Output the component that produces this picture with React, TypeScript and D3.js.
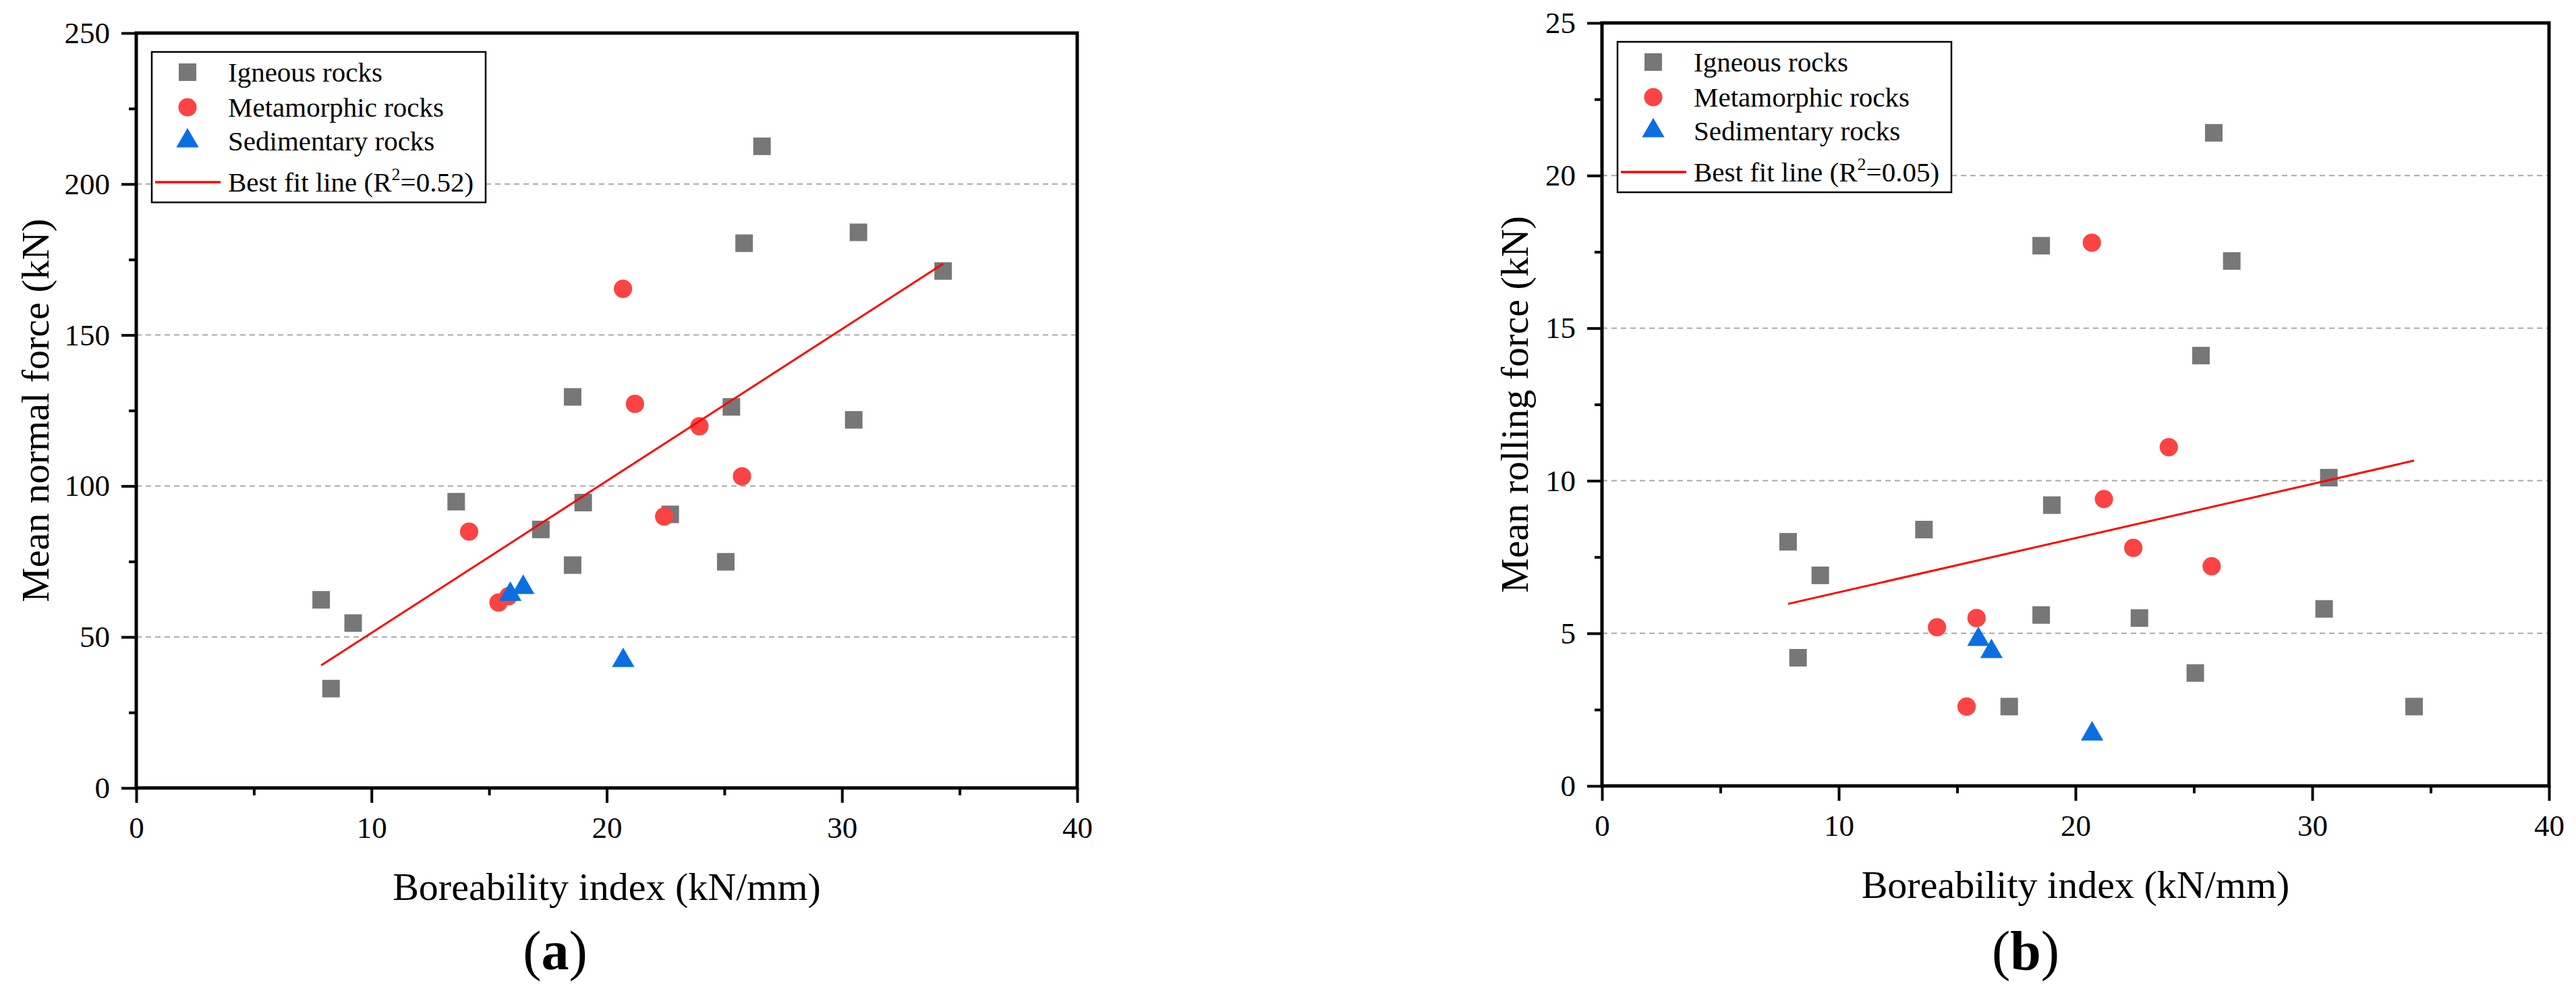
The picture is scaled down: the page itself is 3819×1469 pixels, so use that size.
import { useEffect, useRef } from 'react';
import * as d3 from 'd3';

// boreability index (kN/mm) per rock group
const boreIgneous = [7.86, 8.28, 9.22, 13.6, 17.2, 18.55, 18.55, 19.0, 22.7, 25.06, 25.3, 25.84, 26.6, 30.5, 30.7, 34.3];
const boreMetamorphic = [14.15, 15.4, 15.82, 20.69, 21.2, 22.44, 23.94, 25.75];
const boreSedimentary = [15.9, 16.45, 20.7];

// mean normal force (kN)
const normalIgneous = [62.3, 32.9, 54.6, 94.8, 85.6, 129.5, 73.8, 94.5, 90.6, 74.9, 126.2, 180.4, 212.5, 121.9, 184.0, 171.2];
const normalMetamorphic = [84.9, 61.4, 63.5, 165.3, 127.2, 89.9, 119.8, 103.2];
const normalSedimentary = [64.1, 66.4, 42.2];

// mean rolling force (kN)
const rollingIgneous = [8.0, 4.2, 6.9, 8.4, 2.6, 17.7, 5.6, 9.2, 5.5, 3.7, 14.1, 21.4, 17.2, 5.8, 10.1, 2.6];
const rollingMetamorphic = [5.2, 2.6, 5.5, 17.8, 9.4, 7.8, 11.1, 7.2];
const rollingSedimentary = [4.8, 4.4, 1.7];

// best fit lines: [slope, intercept]
const fitNormal = [5.03, 1.06];
const fitRolling = [0.1775, 4.57];
const r2Labels = ['0.52', '0.05'];

const xTicks = [0, 10, 20, 30, 40];
const xMinor = [5, 15, 25, 35];
const normalTicks = [0, 50, 100, 150, 200, 250];
const normalMinor = [25, 75, 125, 175, 225];
const rollingTicks = [0, 5, 10, 15, 20, 25];
const rollingMinor = [2.5, 7.5, 12.5, 17.5, 22.5];

const groupLabels = ['Igneous rocks', 'Metamorphic rocks', 'Sedimentary rocks'];
const groupColors = ['#777777', '#fb4343', '#0b6fe2'];
const groupShapes = [d3.symbolSquare, d3.symbolCircle, d3.symbolTriangle];
const groupSizes = [676, 580, 480];

const FONT = '"Liberation Serif", "Times New Roman", Times, serif';
const W = 3819;
const H = 1469;

const drawPanel = (svg, opt) => {
  const x = d3.scaleLinear([0, 40], [opt.left, opt.right]);
  const y = d3.scaleLinear([0, opt.yMax], [opt.bottom, opt.top]);
  const g = svg.append('g').attr('font-family', FONT);

  // dashed grid
  g.append('g')
    .selectAll('line')
    .data(opt.yTicks.filter((v) => v > 0 && v < opt.yMax))
    .join('line')
    .attr('x1', x(0))
    .attr('x2', x(40))
    .attr('y1', (d) => y(d))
    .attr('y2', (d) => y(d))
    .attr('stroke', '#a8a8a8')
    .attr('stroke-width', 2)
    .attr('stroke-dasharray', '8,6');

  const styleAxis = (a) => {
    a.attr('font-family', FONT).attr('font-size', 45);
    a.select('.domain').remove();
    a.selectAll('.tick line').attr('stroke', '#000').attr('stroke-width', 4);
    a.selectAll('.tick text').attr('font-size', 45).attr('font-family', FONT).attr('fill', '#000');
  };

  // x axis
  g.append('g')
    .attr('transform', `translate(0,${y(0)})`)
    .call(d3.axisBottom(x).tickValues(xTicks).tickSize(22).tickPadding(20).tickSizeOuter(0))
    .call(styleAxis);
  g.append('g')
    .attr('transform', `translate(0,${y(0)})`)
    .call(d3.axisBottom(x).tickValues(xMinor).tickSize(11).tickFormat(() => '').tickSizeOuter(0))
    .call(styleAxis);

  // y axis
  g.append('g')
    .attr('transform', `translate(${x(0)},0)`)
    .call(d3.axisLeft(y).tickValues(opt.yTicks).tickSize(22).tickPadding(17).tickSizeOuter(0))
    .call(styleAxis);
  g.append('g')
    .attr('transform', `translate(${x(0)},0)`)
    .call(d3.axisLeft(y).tickValues(opt.yMinor).tickSize(11).tickFormat(() => '').tickSizeOuter(0))
    .call(styleAxis);

  // frame
  g.append('rect')
    .attr('x', x(0))
    .attr('y', y(opt.yMax))
    .attr('width', x(40) - x(0))
    .attr('height', y(0) - y(opt.yMax))
    .attr('fill', 'none')
    .attr('stroke', '#000')
    .attr('stroke-width', 5);

  // points
  opt.series.forEach((s, k) => {
    g.append('g')
      .selectAll('path')
      .data(s.x.map((v, i) => [v, s.y[i]]))
      .join('path')
      .attr('transform', (d) => `translate(${x(d[0])},${y(d[1])})`)
      .attr('d', d3.symbol(groupShapes[k], groupSizes[k]))
      .attr('fill', groupColors[k]);
  });

  // fit line over the full range of boreability index
  const allX = opt.series.flatMap((s) => s.x);
  const ext = d3.extent(allX);
  const line = d3.line().x((d) => x(d)).y((d) => y(opt.fit[0] * d + opt.fit[1]));
  g.append('path')
    .attr('d', line(ext))
    .attr('fill', 'none')
    .attr('stroke', '#ff0000')
    .attr('stroke-width', 3);

  // legend
  const lg = g.append('g').attr('transform', `translate(${x(0) + 23},${y(opt.yMax) + 28})`);
  lg.append('rect')
    .attr('width', 495)
    .attr('height', 223)
    .attr('fill', '#fff')
    .attr('stroke', '#000')
    .attr('stroke-width', 2.5);
  const rows = [30, 82, 132, 193];
  groupLabels.forEach((label, k) => {
    lg.append('path')
      .attr('transform', `translate(53,${rows[k]})`)
      .attr('d', d3.symbol(groupShapes[k], groupSizes[k]))
      .attr('fill', groupColors[k]);
    lg.append('text')
      .attr('x', 113)
      .attr('y', rows[k] + 14)
      .attr('font-size', 41)
      .text(label);
  });
  lg.append('line')
    .attr('x1', 5)
    .attr('x2', 102)
    .attr('y1', rows[3])
    .attr('y2', rows[3])
    .attr('stroke', '#ff0000')
    .attr('stroke-width', 3.5);
  const ft = lg.append('text')
    .attr('x', 113)
    .attr('y', rows[3] + 14)
    .attr('font-size', 41);
  ft.append('tspan').text('Best fit line (R');
  ft.append('tspan').attr('font-size', 26).attr('dy', -17).text('2');
  ft.append('tspan').attr('dy', 17).text(`=${opt.r2})`);

  // axis titles
  g.append('text')
    .attr('x', (opt.left + opt.right) / 2)
    .attr('y', opt.bottom + 166)
    .attr('text-anchor', 'middle')
    .attr('font-size', 58)
    .text('Boreability index (kN/mm)');
  g.append('text')
    .attr('transform', `translate(${opt.yTitleX},${(opt.top + opt.bottom) / 2}) rotate(-90)`)
    .attr('text-anchor', 'middle')
    .attr('font-size', 58)
    .text(opt.yTitle);

  // panel caption
  const cap = g.append('text')
    .attr('x', opt.capX)
    .attr('y', 1437)
    .attr('text-anchor', 'middle')
    .attr('font-size', 82);
  cap.append('tspan').text('(');
  cap.append('tspan').attr('font-weight', 'bold').text(opt.cap);
  cap.append('tspan').text(')');
};

const App = () => {
  const svgRef = useRef(null);

  useEffect(() => {
    document.body.style.margin = '0';
    const svg = d3.select(svgRef.current);
    svg.selectAll('*').remove();

    drawPanel(svg, {
      left: 202, right: 1597, top: 49, bottom: 1168,
      yMax: 250, yTicks: normalTicks, yMinor: normalMinor,
      yTitle: 'Mean normal force (kN)', yTitleX: 72,
      fit: fitNormal, r2: r2Labels[0], cap: 'a', capX: 823,
      series: [
        { x: boreIgneous, y: normalIgneous },
        { x: boreMetamorphic, y: normalMetamorphic },
        { x: boreSedimentary, y: normalSedimentary },
      ],
    });

    drawPanel(svg, {
      left: 2375, right: 3779, top: 34, bottom: 1165,
      yMax: 25, yTicks: rollingTicks, yMinor: rollingMinor,
      yTitle: 'Mean rolling force (kN)', yTitleX: 2265,
      fit: fitRolling, r2: r2Labels[1], cap: 'b', capX: 3003,
      series: [
        { x: boreIgneous, y: rollingIgneous },
        { x: boreMetamorphic, y: rollingMetamorphic },
        { x: boreSedimentary, y: rollingSedimentary },
      ],
    });
  }, []);

  return <svg ref={svgRef} width={W} height={H} style={{ display: 'block', background: '#fff' }} />;
};

export default App;
